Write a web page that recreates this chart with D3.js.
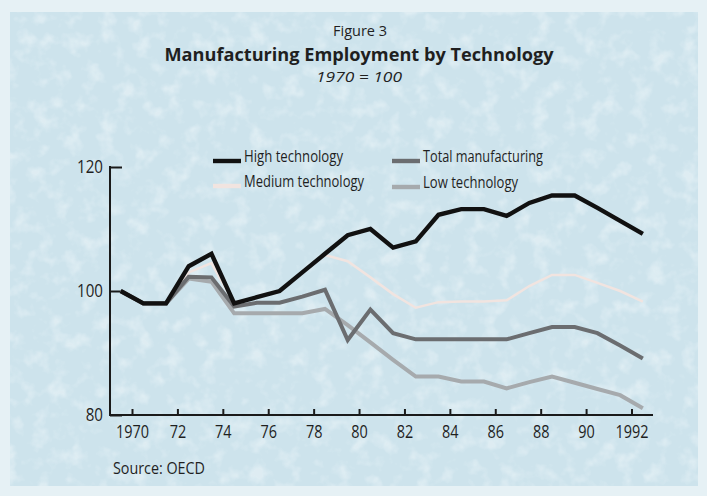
<!DOCTYPE html>
<html>
<head>
<meta charset="utf-8">
<script src="https://cdn.jsdelivr.net/npm/d3@7"></script>
<style>
  html, body { margin: 0; padding: 0; background: #e6f1f5; }
  svg { display: block; }
  text { font-family: "Open Sans", "Noto Sans", "DejaVu Sans", sans-serif; fill: #1f1f1f; }
</style>
</head>
<body>
<svg id="chart" width="707" height="496"></svg>
<script>
// Annual observations, index 1970 = 100
const years = [1970, 1971, 1972, 1973, 1974, 1975, 1976, 1977, 1978, 1979, 1980, 1981,
               1982, 1983, 1984, 1985, 1986, 1987, 1988, 1989, 1990, 1991, 1992, 1993];

const highTech = [100, 98, 98, 104, 106, 98, 99, 100, 103, 106, 109, 110,
                  107, 108, 112.3, 113.2, 113.2, 112.1, 114.2, 115.4, 115.4, 113.4, 111.3, 109.2];
const totalManufacturing = [100, 98, 98, 102.3, 102.2, 97.5, 98.1, 98.1, 99.1, 100.2, 92.1, 97,
                            93.2, 92.2, 92.2, 92.2, 92.2, 92.2, 93.2, 94.2, 94.2, 93.2, 91.2, 89.1];
const mediumTech = [100, 98, 98, 103, 104.5, 98, 99, 100, 103, 105.8, 104.8, 102.2,
                    99.5, 97.3, 98.2, 98.3, 98.3, 98.5, 100.8, 102.6, 102.6, 101.3, 100, 98.3];
const lowTech = [100, 98, 98, 102, 101.5, 96.4, 96.4, 96.4, 96.4, 97.1, 94.5, 91.7,
                 88.9, 86.2, 86.2, 85.4, 85.4, 84.3, 85.3, 86.2, 85.2, 84.2, 83.2, 81.1];

const tickYears  = [1970, 1972, 1974, 1976, 1978, 1980, 1982, 1984, 1986, 1988, 1990, 1992];
const tickLabels = ["1970", "72", "74", "76", "78", "80", "82", "84", "86", "88", "90", "1992"];
const yTicks = [80, 100, 120];

const seriesNames = ["High technology", "Medium technology", "Total manufacturing", "Low technology"];

const series = [
  { name: "Medium technology",   values: mediumTech,         color: "#f1e4e0", width: 2.5 },
  { name: "Low technology",      values: lowTech,            color: "#a6aaad", width: 4 },
  { name: "Total manufacturing", values: totalManufacturing, color: "#6b6d70", width: 4 },
  { name: "High technology",     values: highTech,           color: "#111111", width: 4.4 }
];

const svg = d3.select("#chart");
const W = 707, H = 496;

// Narrow the set type: squeeze each text run to a fraction of its natural width
function condense(sel, factor) {
  sel.each(function () {
    const len = this.getComputedTextLength();
    d3.select(this).attr("textLength", len * factor).attr("lengthAdjust", "spacingAndGlyphs");
  });
  return sel;
}
// Set a text run to an exact width
function fitWidth(sel, w) {
  return sel.attr("textLength", w).attr("lengthAdjust", "spacingAndGlyphs");
}

// Paper background with a fine mottled print texture
const defs = svg.append("defs");
const tex = defs.append("filter").attr("id", "mottle")
  .attr("x", 0).attr("y", 0).attr("width", "100%").attr("height", "100%");
tex.append("feTurbulence").attr("type", "fractalNoise")
  .attr("baseFrequency", "0.06").attr("numOctaves", 3).attr("seed", 11).attr("result", "noise");
tex.append("feColorMatrix").attr("in", "noise").attr("type", "matrix")
  .attr("values", "0 0 0 0 0.9  0 0 0 0 0.95  0 0 0 0 0.97  0 0 0 3 -1.45")
  .attr("result", "spots");
tex.append("feComposite").attr("in", "spots").attr("in2", "SourceGraphic").attr("operator", "in");

svg.append("rect").attr("width", W).attr("height", H).attr("fill", "#e6f1f5");
svg.append("rect").attr("x", 10).attr("y", 12).attr("width", 688).attr("height", 474)
  .attr("fill", "#cde3ec");
svg.append("rect").attr("x", 10).attr("y", 12).attr("width", 688).attr("height", 474)
  .attr("fill", "#cde3ec").attr("filter", "url(#mottle)").attr("opacity", 0.45);

// Scales
const x = d3.scaleLinear().domain([1970, 1992]).range([132, 631.5]);
const y = d3.scaleLinear().domain([80, 120]).range([415, 167]);

// Headings
svg.append("text").attr("x", 360).attr("y", 36).attr("text-anchor", "middle")
  .attr("font-size", 14).text("Figure 3").call(fitWidth, 54);
svg.append("text").attr("x", 359).attr("y", 60.5).attr("text-anchor", "middle")
  .attr("font-size", 18).attr("font-weight", "bold")
  .text("Manufacturing Employment by Technology").call(fitWidth, 389);
svg.append("text").attr("x", 359).attr("y", 82).attr("text-anchor", "middle")
  .attr("font-size", 15).attr("font-style", "italic").text("1970 = 100").call(fitWidth, 86);

// Axes
const axisColor = "#1a1a1a";
const xAxis = d3.axisBottom(x).tickValues(tickYears)
  .tickFormat((d, i) => tickLabels[i]).tickSizeInner(-6).tickSizeOuter(0).tickPadding(10);
const gx = svg.append("g").attr("transform", `translate(0,${y(80)})`).call(xAxis);
gx.select(".domain").remove();
gx.append("line").attr("x1", 109).attr("x2", 653).attr("y1", 0).attr("y2", 0)
  .attr("stroke", axisColor).attr("stroke-width", 2);
gx.selectAll(".tick line").attr("stroke", axisColor).attr("stroke-width", 2);
gx.selectAll(".tick text").attr("font-size", 19).attr("fill", "#222")
  .attr("font-family", "'Open Sans', 'Noto Sans', sans-serif").call(condense, 0.76);

const yAxis = d3.axisLeft(y).tickValues(yTicks).tickSizeInner(-12).tickSizeOuter(0).tickPadding(7);
const gy = svg.append("g").attr("transform", "translate(110,0)").call(yAxis);
gy.select(".domain").remove();
gy.append("line").attr("x1", 0).attr("x2", 0).attr("y1", y(120) - 1).attr("y2", y(80) + 1)
  .attr("stroke", axisColor).attr("stroke-width", 2);
gy.selectAll(".tick line").attr("stroke", axisColor).attr("stroke-width", 2);
gy.selectAll(".tick text").attr("font-size", 18).attr("fill", "#222")
  .attr("font-family", "'Open Sans', 'Noto Sans', sans-serif").call(condense, 0.84);

// Lines: each annual value sits half a year to the left of its tick position
const line = d3.line()
  .x((d, i) => x(years[i] - 0.5))
  .y(d => y(d));

svg.append("g").selectAll("path").data(series).join("path")
  .attr("d", s => line(s.values))
  .attr("fill", "none")
  .attr("stroke", s => s.color)
  .attr("stroke-width", s => s.width)
  .attr("stroke-linejoin", "miter")
  .attr("stroke-linecap", "butt");

// Legend
const legendPos = {
  "High technology":     [213, 161, 99],
  "Medium technology":   [213, 186, 120],
  "Total manufacturing": [392, 161, 120],
  "Low technology":      [392, 187, 95]
};
const legend = svg.append("g");
seriesNames.forEach(name => {
  const s = series.find(d => d.name === name);
  const [lx, ly, lw] = legendPos[name];
  legend.append("line").attr("x1", lx).attr("x2", lx + 28).attr("y1", ly).attr("y2", ly)
    .attr("stroke", s.color).attr("stroke-width", 4.4);
  legend.append("text").attr("x", lx + 31).attr("y", ly + 1).attr("font-size", 16.5)
    .attr("fill", "#2b2b2b").text(name).call(fitWidth, lw);
});

// Source note
svg.append("text").attr("x", 113).attr("y", 474).attr("font-size", 17)
  .attr("fill", "#2b2b2b").text("Source: OECD").call(fitWidth, 92);
</script>
</body>
</html>
